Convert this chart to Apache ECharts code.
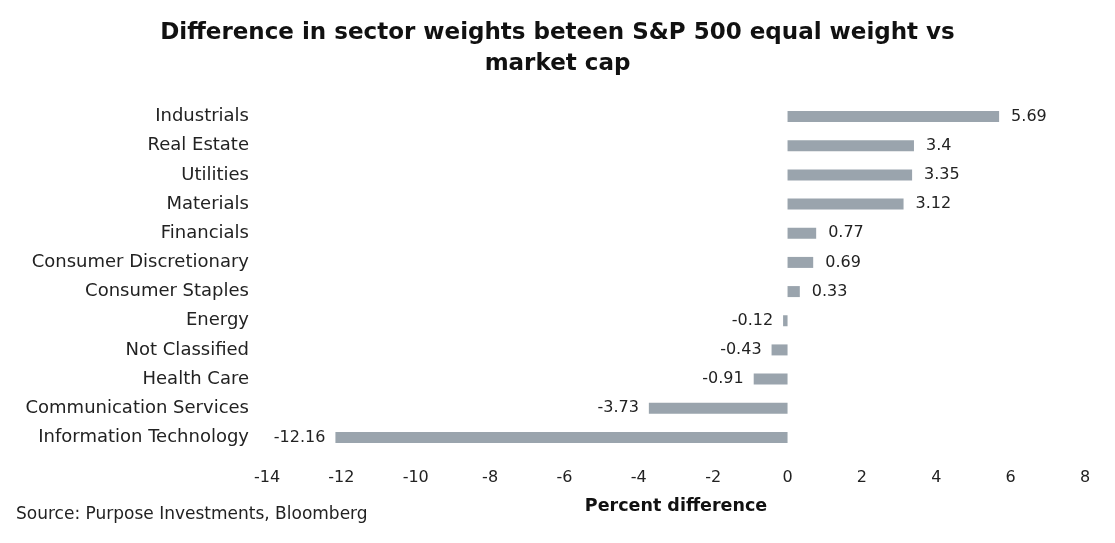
<!DOCTYPE html>
<html><head><meta charset="utf-8">
<script src="https://cdn.jsdelivr.net/npm/echarts@6/dist/echarts.min.js"></script>
<style>html,body{margin:0;padding:0;background:#fff}#c{width:1115px;height:543px}</style>
</head><body><div id="c"></div>
<script>
const categories = ['Industrials','Real Estate','Utilities','Materials','Financials','Consumer Discretionary','Consumer Staples','Energy','Not Classified','Health Care','Communication Services','Information Technology'];
const values = [5.69,3.4,3.35,3.12,0.77,0.69,0.33,-0.12,-0.43,-0.91,-3.73,-12.16];
const FONT = 'DejaVu Sans';
const chart = echarts.init(document.getElementById('c'));
chart.setOption({
  backgroundColor:'#fff',
  animation:false,
  title:{text:'Difference in sector weights beteen S&P 500 equal weight vs\nmarket cap',left:'center',top:13,
    textStyle:{fontFamily:FONT,fontWeight:'bold',fontSize:23,color:'#111',lineHeight:31}},
  graphic:[{type:'text',left:16,top:506,style:{text:'Source: Purpose Investments, Bloomberg',font:'17px "DejaVu Sans"',fill:'#222'}}],
  grid:{left:267,right:30,top:102,bottom:91},
  xAxis:{type:'value',min:-14,max:8,interval:2,
    name:'Percent difference',nameLocation:'middle',nameGap:45,
    nameTextStyle:{fontFamily:FONT,fontWeight:'bold',fontSize:17.5,color:'#111'},
    axisLine:{show:false},axisTick:{show:false},splitLine:{show:false},
    axisLabel:{fontFamily:FONT,fontSize:16,color:'#222',margin:18}},
  yAxis:{type:'category',data:categories,inverse:true,
    axisLine:{show:false},axisTick:{show:false},
    axisLabel:{fontFamily:FONT,fontSize:18,color:'#222',margin:18}},
  series:[{type:'bar',barWidth:11,itemStyle:{color:'#9aa4ad'},
    data:values.map(v=>({value:v,label:{position:v<0?'left':'right',distance:v<0?10:12}})),
    label:{show:true,fontFamily:FONT,fontSize:16,color:'#222',formatter:p=>String(p.value)}}]
});
</script></body></html>
